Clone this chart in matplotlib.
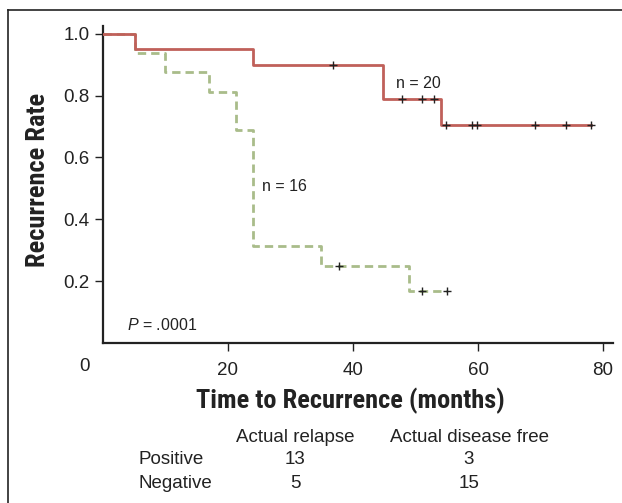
import matplotlib
matplotlib.use("Agg")
import matplotlib.pyplot as plt
from matplotlib.lines import Line2D

# Positive group (n = 20): step times and survival levels
pos_times = [0, 5.1, 24.0, 44.8, 54.0, 78.0]
pos_levels = [1.0, 0.95, 0.90, 0.79, 0.705, 0.705]
pos_censor_t = [36.8, 47.9, 51.0, 53.0, 54.8, 59.0, 59.9, 69.1, 74.0, 78.0]
pos_censor_y = [0.90, 0.79, 0.79, 0.79, 0.705, 0.705, 0.705, 0.705, 0.705, 0.705]

# Negative group (n = 16)
neg_times = [0, 5.1, 9.9, 17.0, 21.3, 24.0, 34.9, 49.0, 55.0]
neg_levels = [1.0, 0.9375, 0.875, 0.8125, 0.6875, 0.3125, 0.25, 0.1667, 0.1667]
neg_censor_t = [37.8, 51.0, 55.0]
neg_censor_y = [0.25, 0.1667, 0.1667]

xticks = [20, 40, 60, 80]
yticks = [0.2, 0.4, 0.6, 0.8, 1.0]

table_cols = ["Actual relapse", "Actual disease free"]
table_rows = ["Positive", "Negative"]
table_vals = [[13, 3], [5, 15]]

RED = "#c0605a"
GREEN = "#a9bc8a"
INK = "#222222"
W, H = 622, 503

plt.rcParams["font.family"] = ["Liberation Sans", "DejaVu Sans"]
plt.rcParams["mathtext.fontset"] = "custom"
plt.rcParams["mathtext.it"] = "Liberation Sans:italic"
plt.rcParams["mathtext.rm"] = "Liberation Sans"

fig = plt.figure(figsize=(W / 100, H / 100), dpi=100)
ax = fig.add_axes([103 / W, 1 - 343 / H, (613 - 103) / W, (343 - 26) / H])

ax.step(pos_times, pos_levels, where="post", color=RED, lw=2.0, zorder=3)
ax.step(neg_times, neg_levels, where="post", color=GREEN, lw=2.0,
        dashes=(3, 1.8), zorder=2)
ax.plot(pos_censor_t, pos_censor_y, "+", color=INK, ms=6, mew=1.0, zorder=4)
ax.plot(neg_censor_t, neg_censor_y, "+", color=INK, ms=6, mew=1.0, zorder=4)

ax.set_xlim(0.0, 81.6)
ax.set_ylim(0.0, 1.025)
for s in ["top", "right"]:
    ax.spines[s].set_visible(False)
for s in ["left", "bottom"]:
    ax.spines[s].set_linewidth(1.6)
    ax.spines[s].set_color(INK)

ax.set_xticks(xticks)
ax.set_xticklabels([str(t) for t in xticks])
ax.set_yticks(yticks)
ax.set_yticklabels([f"{t:.1f}" for t in yticks])
ax.tick_params(axis="both", length=5.5, width=1.0, color=INK,
               labelsize=13.5, labelcolor=INK)
ax.tick_params(axis="x", pad=8)
ax.tick_params(axis="y", pad=4)
ax.text(-3.0, -0.075, "0", ha="center", va="center", fontsize=13.5, color=INK)

ax.text(50.4, 0.84, "n = 20", ha="center", va="center", fontsize=11.5, color=INK)
ax.text(29.0, 0.505, "n = 16", ha="center", va="center", fontsize=11.5, color=INK)
ax.text(3.8, 0.059, r"$P$ = .0001", ha="left", va="center", fontsize=11.5, color=INK)

cond = ["Roboto Condensed", "DejaVu Sans"]
fig.text(38 / W, 1 - 180 / H, "Recurrence Rate", rotation=90, ha="center", va="center",
         fontsize=19, fontweight="bold", family=cond, color=INK)
fig.text(350 / W, 1 - 401 / H, "Time to Recurrence (months)", ha="center", va="center",
         fontsize=19, fontweight="bold", family=cond, color=INK)

col_x = [295, 469]
row_y = [460, 483]
for cx, c in zip(col_x, table_cols):
    fig.text(cx / W, 1 - 437 / H, c, ha="center", va="center", fontsize=13.5, color=INK)
for ry, r, vals in zip(row_y, table_rows, table_vals):
    fig.text(138 / W, 1 - ry / H, r, ha="left", va="center", fontsize=13.5, color=INK)
    for cx, v in zip(col_x, vals):
        fig.text(cx / W, 1 - ry / H, str(v), ha="center", va="center", fontsize=13.5,
                 color=INK)

# outer frame (cropped box)
fig.add_artist(Line2D([8 / W, 1.0], [1 - 10 / H, 1 - 10 / H], color=INK, lw=1.2))
fig.add_artist(Line2D([8 / W, 8 / W], [0.0, 1 - 10 / H], color=INK, lw=1.2))

fig.savefig("out.png", dpi=100)
